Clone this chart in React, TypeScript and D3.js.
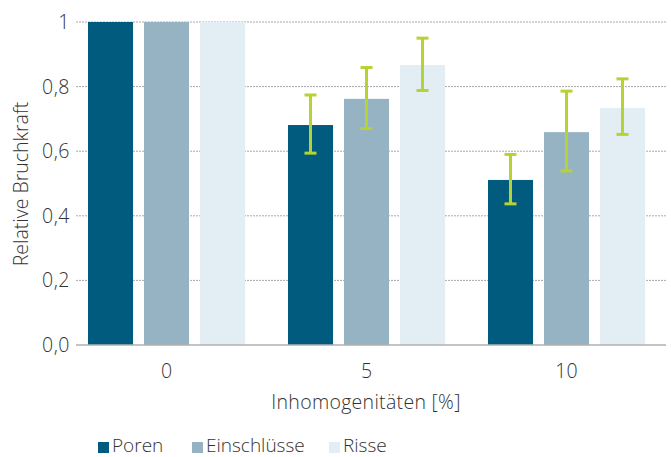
// Relative Bruchkraft vs. Inhomogenitäten — grouped bars with error bars.
import { useEffect, useRef } from "react";
import * as d3 from "d3";

const categories = ["0", "5", "10"];
const seriesNames = ["Poren", "Einschlüsse", "Risse"];
const seriesColors = ["#005b7f", "#95b3c3", "#e2edf4"];
const poren = [1, 0.681, 0.511];
const einschluesse = [1, 0.762, 0.659];
const risse = [1, 0.867, 0.734];
// [low, high] per category, null = no error bar
const porenErr: ([number, number] | null)[] = [null, [0.594, 0.774], [0.437, 0.59]];
const einschluesseErr: ([number, number] | null)[] = [null, [0.67, 0.859], [0.539, 0.786]];
const risseErr: ([number, number] | null)[] = [null, [0.788, 0.95], [0.652, 0.824]];
const yTicks = [0, 0.2, 0.4, 0.6, 0.8, 1];

const W = 671;
const H = 457;
const FONT = "'Open Sans', 'Noto Sans', sans-serif";
const INK = "#333";

export default function App() {
  const ref = useRef<SVGSVGElement>(null);

  useEffect(() => {
    const svg = d3.select(ref.current!);
    svg.selectAll("*").remove();

    const values = [poren, einschluesse, risse];
    const errs = [porenErr, einschluesseErr, risseErr];

    const gridLeft = 76;
    const gridRight = 666;
    const x0 = d3.scaleBand<string>().domain(categories).range([66.5, 666.5]).paddingInner(0.215).paddingOuter(0.1075);
    const x1 = d3.scaleBand<string>().domain(seriesNames).range([0, x0.bandwidth()]).paddingInner(0.196).paddingOuter(0);
    const y = d3.scaleLinear().domain([0, 1]).range([345, 22]);

    const txt = (sel: d3.Selection<any, any, any, any>, size: number) =>
      sel
        .attr("font-family", FONT)
        .attr("font-size", size)
        .attr("font-weight", 300)
        .attr("fill", INK);

    // gridlines
    svg.append("g")
      .selectAll("line")
      .data(yTicks.filter((t) => t > 0))
      .join("line")
      .attr("x1", gridLeft)
      .attr("x2", gridRight)
      .attr("y1", (d) => y(d))
      .attr("y2", (d) => y(d))
      .attr("stroke", "#a8a8a8")
      .attr("stroke-width", 1)
      .attr("stroke-dasharray", "2,1");

    // bars
    seriesNames.forEach((s, si) => {
      svg.append("g")
        .selectAll("rect")
        .data(categories)
        .join("rect")
        .attr("x", (c) => (x0(c) ?? 0) + (x1(s) ?? 0))
        .attr("width", x1.bandwidth())
        .attr("y", (_c, i) => y(values[si][i]))
        .attr("height", (_c, i) => y(0) - y(values[si][i]))
        .attr("fill", seriesColors[si]);
    });

    // baseline
    svg.append("line")
      .attr("x1", gridLeft)
      .attr("x2", gridRight)
      .attr("y1", y(0))
      .attr("y2", y(0))
      .attr("stroke", "#b0b0b0")
      .attr("stroke-width", 1.5);

    // error bars
    const errColor = "#b5d334";
    seriesNames.forEach((s, si) => {
      categories.forEach((c, ci) => {
        const e = errs[si][ci];
        if (!e) return;
        const cx = (x0(c) ?? 0) + (x1(s) ?? 0) + x1.bandwidth() / 2;
        const g = svg.append("g").attr("stroke", errColor).attr("stroke-width", 3);
        g.append("line").attr("x1", cx).attr("x2", cx).attr("y1", y(e[0])).attr("y2", y(e[1]));
        for (const v of e) {
          g.append("line").attr("x1", cx - 6).attr("x2", cx + 6).attr("y1", y(v)).attr("y2", y(v));
        }
      });
    });

    // y tick labels
    txt(
      svg.append("g")
        .selectAll("text")
        .data(yTicks)
        .join("text")
        .attr("x", 70)
        .attr("y", (d) => y(d))
        .attr("dy", "0.36em")
        .attr("text-anchor", "end")
        .attr("letter-spacing", 0.5)
        .text((d) => (d === 1 ? "1" : d.toFixed(1).replace(".", ","))),
      19.5
    );

    // x tick labels
    txt(
      svg.append("g")
        .selectAll("text")
        .data(categories)
        .join("text")
        .attr("x", (c) => (x0(c) ?? 0) + x0.bandwidth() / 2)
        .attr("y", 378)
        .attr("text-anchor", "middle")
        .text((c) => c),
      19.5
    );

    // axis titles
    txt(
      svg.append("text")
        .attr("x", 366)
        .attr("y", 409)
        .attr("text-anchor", "middle")
        .attr("letter-spacing", 0.3)
        .text("Inhomogenitäten [%]"),
      19.5
    );
    txt(
      svg.append("text")
        .attr("transform", "translate(28,184) rotate(-90)")
        .attr("text-anchor", "middle")
        .text("Relative Bruchkraft"),
      19.5
    );

    // legend
    const legendX = [98, 192, 329];
    const lg = svg.append("g");
    seriesNames.forEach((s, i) => {
      lg.append("rect").attr("x", legendX[i]).attr("y", 442).attr("width", 11).attr("height", 11).attr("fill", seriesColors[i]);
      txt(
        lg.append("text")
          .attr("x", legendX[i] + 14)
          .attr("y", 452)
          .text(s),
        19
      );
    });
  }, []);

  return (
    <svg ref={ref} width={W} height={H} style={{ position: "absolute", left: 0, top: 0, background: "#fff" }} />
  );
}
